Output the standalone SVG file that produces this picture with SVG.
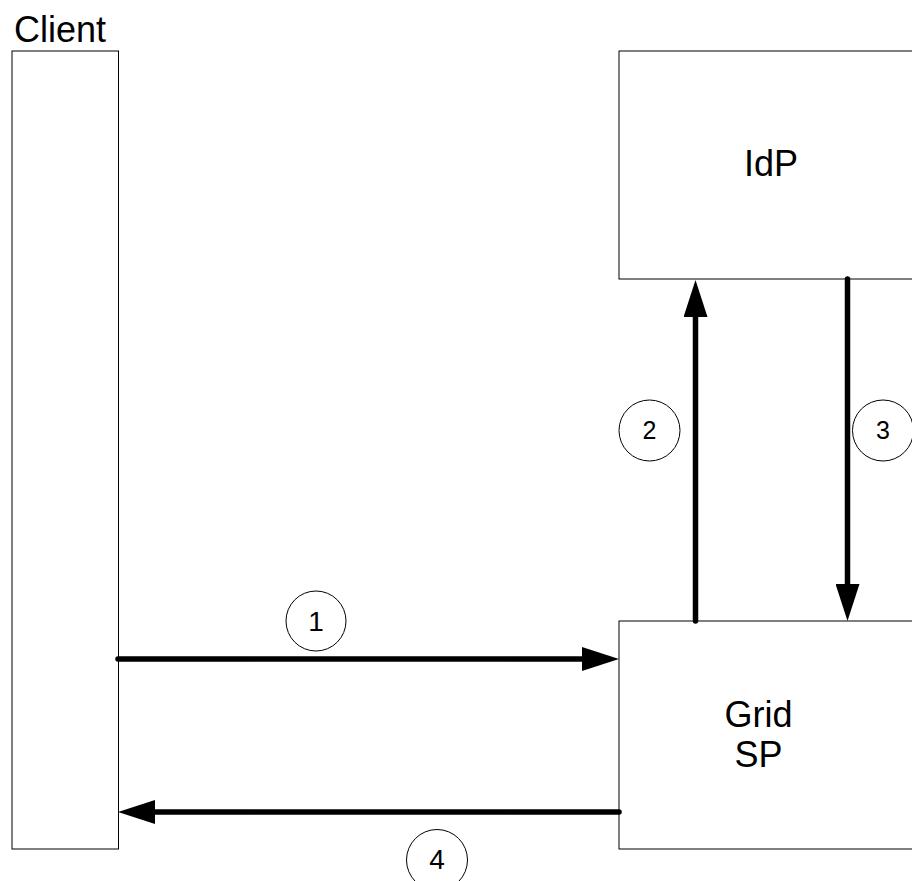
<svg xmlns="http://www.w3.org/2000/svg" width="912" height="881" viewBox="0 0 912 881">
  <style>
    .box { fill: #ffffff; stroke: #000000; stroke-width: 1; }
    .label { font-family: "Liberation Sans", Arial, sans-serif; font-size: 36px; fill: #000000; }
    .step { fill: #ffffff; stroke: #000000; stroke-width: 1; }
    .num { font-family: "Liberation Sans", Arial, sans-serif; fill: #000000; text-anchor: middle; }
    .flow { fill: none; stroke: #000000; stroke-width: 5.5; stroke-linecap: round; marker-end: url(#head); }
  </style>
  <defs>
    <marker id="head" markerUnits="userSpaceOnUse" viewBox="0 -12 37 24" refX="0" refY="0" markerWidth="37" markerHeight="24" orient="auto">
      <path d="M0,-12 L37,0 L0,12 Z" fill="#000000"/>
    </marker>
  </defs>
  <rect width="912" height="881" fill="#ffffff"/>

  <g id="client">
    <rect class="box" x="12" y="51" width="106.5" height="798"/>
    <text class="label" x="14" y="42" font-size="37">Client</text>
  </g>

  <g id="idp">
    <rect class="box" x="619" y="51" width="400" height="228"/>
    <text class="label" x="771" y="176" text-anchor="middle">IdP</text>
  </g>

  <g id="grid-sp">
    <rect class="box" x="619" y="621" width="400" height="228"/>
    <text class="label" x="758.5" y="727" text-anchor="middle">Grid</text>
    <text class="label" x="758.5" y="767" text-anchor="middle">SP</text>
  </g>

  <g id="connectors">
    <line class="flow" x1="118" y1="659" x2="582" y2="659"/>
    <line class="flow" x1="695.5" y1="621" x2="695.5" y2="317"/>
    <line class="flow" x1="847.5" y1="279" x2="847.5" y2="584"/>
    <line class="flow" x1="619" y1="812" x2="155" y2="812"/>
  </g>

  <g id="step-1">
    <circle class="step" cx="316" cy="621" r="30"/>
    <text class="num" x="316" y="631" font-size="28">1</text>
  </g>
  <g id="step-2">
    <circle class="step" cx="649.5" cy="430.5" r="30.5"/>
    <text class="num" x="649.5" y="439" font-size="25">2</text>
  </g>
  <g id="step-3">
    <circle class="step" cx="883" cy="430.5" r="30.5"/>
    <text class="num" x="883" y="439" font-size="25">3</text>
  </g>
  <g id="step-4">
    <circle class="step" cx="437" cy="860" r="30.5"/>
    <text class="num" x="437" y="869" font-size="28">4</text>
  </g>
</svg>
